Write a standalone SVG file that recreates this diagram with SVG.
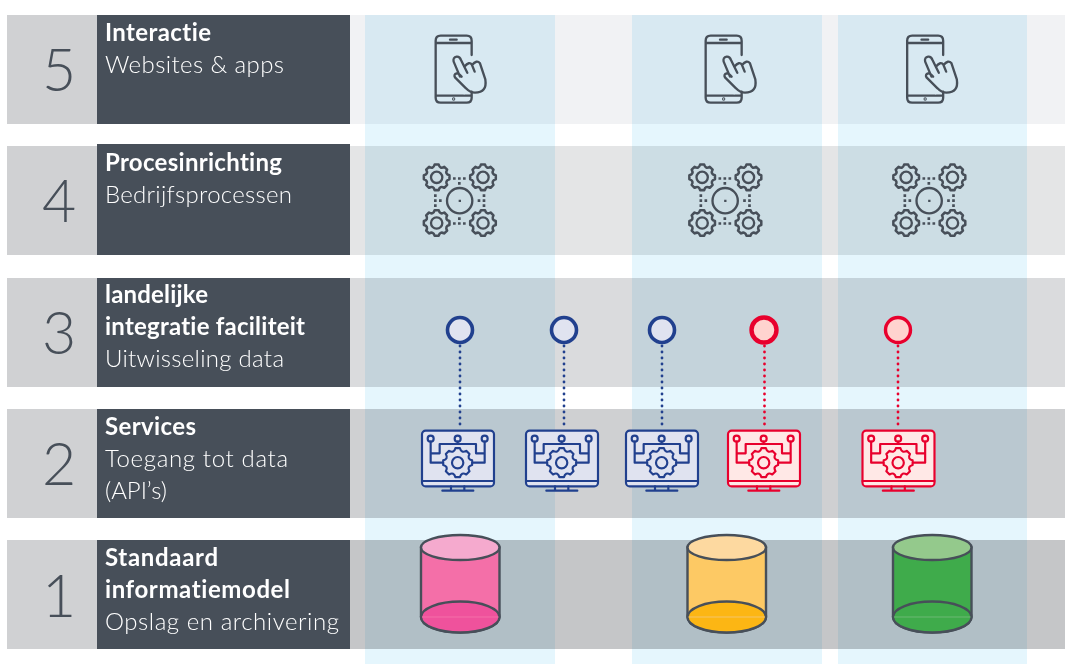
<svg xmlns="http://www.w3.org/2000/svg" width="1065" height="664" viewBox="0 0 1065 664">
<style>
text{font-family:Lato,"Liberation Sans",sans-serif;fill:#fff;font-size:24px;font-variant-ligatures:none}
.b{font-weight:700}
.r{font-weight:300}
.d{font-size:59px;font-weight:300;fill:#474f59;text-anchor:middle}
.dark{fill:#474f59}
.num{fill:#d0d1d3}
.col{fill:#e5f6fd;mix-blend-mode:multiply}
.ic{fill:none;stroke:#474f59;stroke-width:7;stroke-linecap:round;stroke-linejoin:round}
.sq{fill:#474f59}
.cyl{stroke:#474f59;stroke-width:2.4}
.blue{stroke:#21408e;--f:#e0e3f0}
.red{stroke:#e8002d;--f:#ffe8e6}
.mon{fill:none;stroke-width:6.5;stroke-linejoin:round;stroke-linecap:round}
.dot{fill:none;stroke-width:2.8;stroke-linecap:round;stroke-dasharray:0 6}
</style>
<defs>
<path id="gear" d="M35.56-5.63L35.56 5.63Q22.17 9.18 29.12 21.16L21.16 29.12Q9.18 22.17 5.63 35.56L-5.63 35.56Q-9.18 22.17-21.16 29.12L-29.12 21.16Q-22.17 9.18-35.56 5.63L-35.56-5.63Q-22.17-9.18-29.12-21.16L-21.16-29.12Q-9.18-22.17-5.63-35.56L5.63-35.56Q9.18-22.17 21.16-29.12L29.12-21.16Q22.17-9.18 35.56-5.63Z"/>
<g id="phone" class="ic">
<path d="M185 105V62Q185 47 170 47H92Q77 47 77 62V233Q77 248 92 248H170Q185 248 185 233V215"/>
<path d="M79 69H183M120 59H140M79 227H160M165 227H183"/>
<circle cx="131" cy="237" r="1.5"/>
<path d="M150 170L131 125Q128 112 140 110Q149 109 153 120L163 140Q178 122 186 135Q200 118 210 130L226 178Q232 218 195 218Q180 218 168 205L135 172Q130 163 140 160Q147 159 155 170M163 140L172 158M186 135L194 155"/>
</g>
<g id="cluster">
<g class="ic">
<use href="#gear" transform="translate(80 67) scale(1.08)"/><circle cx="80" cy="67" r="17"/>
<use href="#gear" transform="translate(219 67) scale(1.08)"/><circle cx="219" cy="67" r="17"/>
<use href="#gear" transform="translate(80 204) scale(1.08)"/><circle cx="80" cy="204" r="17"/>
<use href="#gear" transform="translate(219 204) scale(1.08)"/><circle cx="219" cy="204" r="17"/>
<circle cx="149" cy="137" r="38"/>
</g>
<path class="sq" d="M146 134h7v7h-7zM129 67h8v7h-8zM144 67h8v7h-8zM159 67h8v7h-8zM144 81h8v8h-8zM129 202h8v7h-8zM144 202h8v7h-8zM159 202h8v7h-8zM144 187h8v8h-8zM72 118h8v8h-8zM72 133h8v8h-8zM72 148h8v8h-8zM87 133h8v8h-8zM218 118h8v8h-8zM218 133h8v8h-8zM218 148h8v8h-8zM203 133h8v8h-8z"/>
</g>
<g id="monitor" class="mon">
<rect x="36" y="362" width="216" height="167" rx="11" style="fill:var(--f)"/>
<path d="M36 513H252M123 529V542M163 529V542M97 542H190"/>
<circle cx="62" cy="386" r="9"/><circle cx="143" cy="386" r="9"/><circle cx="224" cy="386" r="9"/>
<path d="M62 395V458H100M62 430H89V402H198V430H224M224 395V458H186M143 395V402"/>
<use href="#gear" transform="translate(143 458) scale(1.22)" stroke-width="5.300" style="fill:var(--f)"/>
<circle cx="143" cy="458" r="17"/>
</g>
</defs>

<g id="bands">
<rect x="350" y="15" width="715" height="109" fill="#f1f2f4"/>
<rect x="350" y="146" width="715" height="109" fill="#e4e5e6"/>
<rect x="350" y="278" width="715" height="109" fill="#dadbdd"/>
<rect x="350" y="409" width="715" height="109" fill="#cfd0d2"/>
<rect x="350" y="540" width="715" height="109" fill="#c5c6c8"/>
</g>
<g id="columns">
<rect class="col" x="365" y="15" width="190" height="649"/>
<rect class="col" x="632" y="15" width="190" height="649"/>
<rect class="col" x="838" y="15" width="189" height="649"/>
</g>

<g id="layer5">
<rect class="num" x="7" y="15" width="90" height="109"/><rect class="dark" x="97" y="15" width="253" height="109"/>
<text class="d" x="59" y="91">5</text>
<text class="b" x="105" y="41" textLength="106">Interactie</text><text class="r" x="105" y="73" textLength="179">Websites &amp; apps</text>
</g>
<g id="layer4">
<rect class="num" x="7" y="146" width="90" height="109"/><rect class="dark" x="97" y="144" width="253" height="111"/>
<text class="d" x="59" y="222">4</text>
<text class="b" x="105" y="171" textLength="177">Procesinrichting</text><text class="r" x="105" y="203" textLength="187">Bedrijfsprocessen</text>
</g>
<g id="layer3">
<rect class="num" x="7" y="278" width="90" height="109"/><rect class="dark" x="97" y="278" width="253" height="109"/>
<text class="d" x="59" y="354">3</text>
<text class="b" x="105" y="303" textLength="103">landelijke</text><text class="b" x="105" y="335" textLength="200">integratie faciliteit</text><text class="r" x="105" y="367" textLength="179">Uitwisseling data</text>
</g>
<g id="layer2">
<rect class="num" x="7" y="409" width="90" height="109"/><rect class="dark" x="97" y="409" width="253" height="109"/>
<text class="d" x="59" y="485">2</text>
<text class="b" x="105" y="435" textLength="91">Services</text><text class="r" x="105" y="467" textLength="183">Toegang tot data</text><text class="r" x="105" y="499" textLength="62">(API’s)</text>
</g>
<g id="layer1">
<rect class="num" x="7" y="540" width="90" height="109"/><rect class="dark" x="97" y="540" width="253" height="109"/>
<text class="d" x="59" y="617">1</text>
<text class="b" x="105" y="566" textLength="113">Standaard</text><text class="b" x="105" y="598" textLength="185">informatiemodel</text><text class="r" x="105" y="630" textLength="234">Opslag en archivering</text>
</g>

<g id="connectors">
<path class="dot blue" d="M460 346V430"/>
<path class="dot blue" d="M564 346V430"/>
<path class="dot blue" d="M662 346V430"/>
<path class="dot red" d="M764.5 346V430"/>
<path class="dot red" d="M898 346V430"/>
</g>

<g id="phone1"><use href="#phone" transform="translate(410 20) scale(.3333)"/></g>
<g id="phone2"><use href="#phone" transform="translate(680 20) scale(.3333)"/></g>
<g id="phone3"><use href="#phone" transform="translate(881.5 20) scale(.3333)"/></g>
<g id="process1"><use href="#cluster" transform="translate(410 155) scale(.3333)"/></g>
<g id="process2"><use href="#cluster" transform="translate(675.5 155) scale(.3333)"/></g>
<g id="process3"><use href="#cluster" transform="translate(879.5 155) scale(.3333)"/></g>

<g id="exchange1"><circle class="blue" cx="460" cy="330" r="12.5" fill="#e0e3f0" stroke-width="3.6"/></g>
<g id="exchange2"><circle class="blue" cx="564" cy="330" r="12.5" fill="#e0e3f0" stroke-width="3.6"/></g>
<g id="exchange3"><circle class="blue" cx="662" cy="330" r="12.5" fill="#e0e3f0" stroke-width="3.6"/></g>
<g id="exchange4"><circle class="red" cx="764" cy="330" r="12.5" fill="#ffd3cf" stroke-width="4.4"/></g>
<g id="exchange5"><circle class="red" cx="898" cy="330" r="12.5" fill="#ffd3cf" stroke-width="3.4"/></g>

<g id="service1" class="blue"><use href="#monitor" transform="translate(410 310) scale(.3333)"/></g>
<g id="service2" class="blue"><use href="#monitor" transform="translate(514 310) scale(.3333)"/></g>
<g id="service3" class="blue"><use href="#monitor" transform="translate(614 310) scale(.3333)"/></g>
<g id="service4" class="red"><use href="#monitor" transform="translate(716 310) scale(.3333)"/></g>
<g id="service5" class="red"><use href="#monitor" transform="translate(850.5 310) scale(.3333)"/></g>

<g id="store1" class="cyl">
<path d="M421 547.5V617A39 15.5 0 0 0 499.5 617V547.5Z" fill="#f46fa8"/>
<path d="M421 617A39.25 15.5 0 0 1 499.5 617A39.25 15.5 0 0 1 421 617Z" fill="#ef529c"/>
<path d="M422 617H498.500" stroke="#f46fa8" stroke-width="1"/>
<ellipse cx="460.250" cy="547.5" rx="39.250" ry="12.500" fill="#f5aace"/>
</g>
<g id="store2" class="cyl">
<path d="M687.500 547.5V617A39 15.5 0 0 0 766 617V547.5Z" fill="#fdc964"/>
<path d="M687.500 617A39.25 15.5 0 0 1 766 617A39.25 15.5 0 0 1 687.500 617Z" fill="#fcb614"/>
<path d="M688.500 617H765" stroke="#f4c468" stroke-width="1"/>
<ellipse cx="726.750" cy="547.5" rx="39.250" ry="12.500" fill="#fdd9a0"/>
</g>
<g id="store3" class="cyl">
<path d="M893 547.5V617A39 15.5 0 0 0 971.500 617V547.5Z" fill="#3fab4b"/>
<path d="M893 617A39.25 15.5 0 0 1 971.500 617A39.25 15.5 0 0 1 893 617Z" fill="#3fab4b"/>
<path d="M894 617H970.500" stroke="#6db875" stroke-width="1"/>
<ellipse cx="932.250" cy="547.5" rx="39.250" ry="12.500" fill="#94c98c"/>
</g>
</svg>
